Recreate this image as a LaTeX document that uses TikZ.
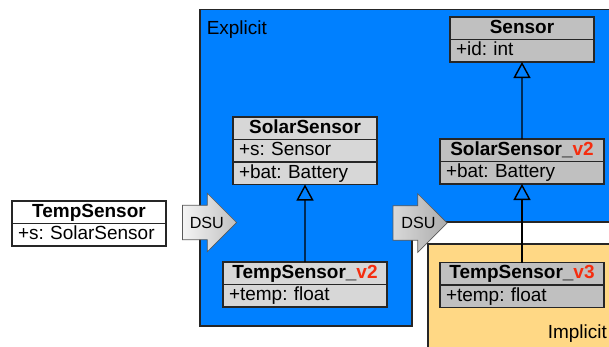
\documentclass[tikz,border=0pt]{standalone}
\usepackage{fontspec}
\setmainfont{Liberation Sans}
\usetikzlibrary{positioning,arrows.meta,shapes.arrows}

\definecolor{explicitblue}{RGB}{0,128,255}
\definecolor{implicitorange}{RGB}{255,216,133}
\definecolor{classdark}{RGB}{192,192,192}
\definecolor{classlight}{RGB}{215,215,215}
\definecolor{versionred}{RGB}{245,45,15}

\begin{document}
\frenchspacing
\begin{tikzpicture}[
    x=0.25mm, y=-0.25mm,
    region/.style={draw=black!85, line width=1pt},
    classrow/.style={draw=black!85, line width=1pt, anchor=north west, outer sep=0pt,
        minimum height=5.625mm, inner xsep=1.5mm, inner ysep=0pt,
        text width=#1, align=left, text height=0.716em, text depth=0pt,
        font=\fontsize{13.5}{16}\selectfont},
    classhead/.style={classrow=#1, align=center, font=\fontsize{13.5}{16}\selectfont\bfseries},
    inherit/.style={line width=1pt, -{Triangle[open, length=4mm, width=4.25mm]}},
    dsu/.style={single arrow, draw=gray!70!black, line width=0.5pt,
        minimum height=13.5mm, single arrow head extend=3mm,
        inner xsep=1pt, inner ysep=12pt, text height=0pt, text depth=0pt, anchor=tip},
    dsutext/.style={inner sep=0pt, font=\fontsize{11.5}{13}\selectfont},
    label/.style={anchor=base west, inner sep=0pt, font=\fontsize{13.5}{16}\selectfont}
]
    \useasboundingbox (0,0) rectangle (609,347);
    \clip (0,0) rectangle (609,347);

    % Explicit region (two boxes merged)
    \draw[region, fill=explicitblue] (200,9.5) -- (620,9.5) -- (620,222) -- (412,222)
        -- (412,326) -- (200,326) -- cycle;
    \node[label] (explicit) at (206.5,34.3) {Explicit};

    % Implicit region
    \draw[region, fill=implicitorange] (428,244) rectangle (620,360);
    \node[label] (implicit) at (547.5,338) {Implicit};

    % Old TempSensor
    \node[classhead=35.5mm, fill=white] (ts) at (12,201) {TempSensor};
    \node[classrow=35.5mm, fill=white, below=0pt of ts] (tss) {+s: SolarSensor};

    % Sensor
    \node[classhead=33mm, fill=classdark] (sn) at (450,17) {Sensor};
    \node[classrow=33mm, fill=classdark, below=0pt of sn] (snid) {+id: int};

    % SolarSensor
    \node[classhead=33mm, fill=classlight] (ss) at (233,117) {SolarSensor};
    \node[classrow=33mm, fill=classlight, below=0pt of ss] (sss) {+s: Sensor};
    \node[classrow=33mm, fill=classlight, below=0pt of sss] (ssbat) {+bat: Battery};

    % TempSensor_v2
    \node[classhead=38mm, fill=classlight] (tsv2) at (223,262) {TempSensor\_{\color{versionred}v2}};
    \node[classrow=38mm, fill=classlight, below=0pt of tsv2] (tsv2temp) {+temp: float};

    % SolarSensor_v2
    \node[classhead=38mm, fill=classdark] (ssv2) at (440,139) {SolarSensor\_{\color{versionred}v2}};
    \node[classrow=38mm, fill=classdark, below=0pt of ssv2] (ssv2bat) {+bat: Battery};

    % TempSensor_v3
    \node[classhead=38mm, fill=classdark] (tsv3) at (440,262.5) {TempSensor\_{\color{versionred}v3}};
    \node[classrow=38mm, fill=classdark, below=0pt of tsv3] (tsv3temp) {+temp: float};

    % Inheritance
    \draw[inherit] (tsv2.north) -- (ssbat.south);
    \draw[inherit] (ssv2.north) -- (snid.south);
    \draw[inherit] (tsv3.north) -- (ssv2bat.south);

    % DSU steps
    \node[dsu, left color=gray!8, right color=gray!50] (dsu1) at (237,222.5) {};
    \path (dsu1.tail) -- (dsu1.tip) node[dsutext, pos=0.45] (dsu1text) {DSU};
    \node[dsu, left color=gray!30, right color=gray!65] (dsu2) at (447.5,223) {};
    \path (dsu2.tail) -- (dsu2.tip) node[dsutext, pos=0.47] (dsu2text) {DSU};
\end{tikzpicture}
\end{document}
